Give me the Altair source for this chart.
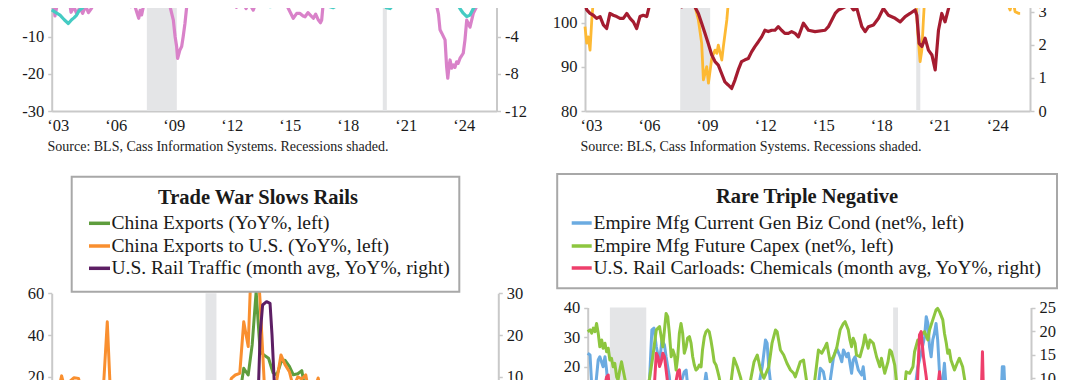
import altair as alt
import pandas as pd

# ---------------- data (decimal years) ----------------
# Top-left panel: pink (left axis) and teal (right axis)
pink_t = [2003.0, 2003.1, 2003.17, 2003.3, 2003.6, 2003.9, 2004.0, 2004.15, 2004.3, 2004.45, 2004.6,
          2004.75, 2004.9, 2005.05, 2005.2, 2005.4, 2005.8, 2006.3, 2006.8, 2007.1, 2007.25, 2007.4,
          2007.5, 2007.57, 2007.65, 2007.8, 2008.2, 2008.6, 2008.9, 2009.03, 2009.12, 2009.29, 2009.38,
          2009.46, 2009.51, 2009.63, 2009.72, 2009.8, 2009.89, 2009.98, 2010.06, 2010.5, 2011.0, 2011.5,
          2012.0, 2012.4, 2012.55, 2012.7, 2012.9, 2013.05, 2013.2, 2013.42, 2013.6, 2014.0, 2014.5,
          2015.0, 2015.23, 2015.49, 2015.67, 2015.84, 2016.0, 2016.1, 2016.25, 2016.36, 2016.53, 2016.65,
          2016.79, 2016.9, 2016.96, 2017.04, 2017.5, 2018.0, 2018.5, 2019.0, 2019.5, 2019.7, 2019.9,
          2020.2, 2020.5, 2021.0, 2021.5, 2022.0, 2022.5, 2022.87, 2023.0, 2023.08, 2023.17, 2023.34,
          2023.42, 2023.48, 2023.55, 2023.6, 2023.68, 2023.77, 2023.85, 2023.94, 2024.02, 2024.11,
          2024.28, 2024.37, 2024.46, 2024.63, 2024.8, 2024.97, 2025.15, 2025.4, 2025.55]
pink_v = [0.5, -1.5, -4.5, -1.0, 1.0, 0.0, -3.5, -2.0, -4.0, -2.2, -3.8,
          -1.8, -3.6, -2.5, -1.0, 1.0, 2.0, 2.5, 1.0, -2.0, -1.0, -3.5,
          -5.1, -3.0, -4.2, -0.5, 1.5, 1.0, -0.5, -1.0, -2.0, -5.6, -10.0,
          -12.7, -15.9, -13.6, -12.7, -10.0, -6.5, -2.0, 0.5, 4.0, 3.0, 2.0,
          1.0, -0.5, -2.2, -0.5, -1.0, -2.5, -1.0, -2.9, -0.5, 1.0, 1.5,
          -0.5, -2.4, -5.1, -3.8, -3.8, -4.5, -4.7, -3.6, -4.2, -5.1, -4.0,
          -5.6, -6.3, -5.6, -1.0, 2.0, 4.0, 3.0, 1.0, -1.5, -0.5, -1.2,
          0.0, 1.0, 4.0, 6.0, 4.0, 1.0, -1.0, -4.0, -8.2, -9.1, -10.9,
          -18.1, -21.2, -17.8, -16.3, -18.5, -17.6, -18.3, -16.8, -17.2, -15.9,
          -14.5, -10.9, -5.6, -7.5, -3.8, -2.0, 0.0, 0.5, 0.0]
teal_t = [2003.0, 2003.2, 2003.43, 2003.65, 2003.86, 2004.03, 2004.15, 2004.29, 2004.42, 2004.55, 2004.7,
          2004.8, 2005.0, 2005.5, 2006.0, 2006.5, 2007.0, 2007.4, 2007.6, 2008.0, 2008.6, 2008.95, 2009.2,
          2009.6, 2010.2, 2010.8, 2011.4, 2012.0, 2012.6, 2013.2, 2013.8, 2014.3, 2014.8, 2015.06, 2015.49,
          2015.9, 2016.3, 2016.8, 2017.2, 2017.56, 2017.9, 2018.4, 2018.9, 2019.4, 2019.8, 2020.1, 2020.3,
          2020.5, 2020.7, 2021.0, 2021.6, 2022.2, 2022.8, 2023.4, 2023.94, 2024.11, 2024.28, 2024.46,
          2024.63, 2024.8, 2024.97, 2025.15, 2025.5]
teal_v = [-1.15, -1.4, -1.7, -2.2, -2.6, -2.2, -2.0, -1.7, -1.2, -1.0, -0.7,
          -0.4, 0.0, 0.5, 0.8, 0.3, -0.3, -0.7, -0.4, 0.0, -0.2, -0.6, -0.3,
          0.5, 0.3, -0.5, 0.0, 0.2, -0.3, 0.0, -0.5, -0.8, -0.6, -0.6, -0.45,
          -0.6, -0.3, -0.6, -0.7, -0.9, -0.5, -0.2, -0.1, -0.3, -0.1, -0.4, -0.9,
          -1.0, -0.5, 0.5, 1.0, 1.2, 0.8, 0.4, -0.4, -1.0, -1.5, -1.87,
          -1.7, -1.0, -0.6, -0.25, -0.1]

# Top-right panel: dark red (left axis) and yellow (right axis)
red_t = [2003.0, 2003.09, 2003.26, 2003.43, 2003.6, 2003.78, 2003.95, 2004.12, 2004.29, 2004.46, 2004.64,
         2004.81, 2004.98, 2005.16, 2005.33, 2005.5, 2005.67, 2005.84, 2006.01, 2006.19, 2006.36, 2006.6,
         2007.0, 2007.3, 2007.48, 2007.65, 2007.82, 2008.0, 2008.17, 2008.34, 2008.51, 2008.68, 2008.86,
         2009.03, 2009.2, 2009.37, 2009.55, 2009.72, 2009.89, 2010.06, 2010.23, 2010.4, 2010.58, 2010.75,
         2010.92, 2011.09, 2011.27, 2011.44, 2011.61, 2011.78, 2011.96, 2012.13, 2012.3, 2012.47, 2012.65,
         2012.82, 2012.99, 2013.16, 2013.33, 2013.51, 2013.68, 2013.86, 2014.03, 2014.29, 2014.55, 2014.89,
         2015.41, 2015.58, 2015.93, 2016.1, 2016.44, 2016.7, 2016.87, 2017.05, 2017.31, 2017.48, 2017.65,
         2017.91, 2018.17, 2018.42, 2018.68, 2019.03, 2019.29, 2019.55, 2019.8, 2020.06, 2020.15, 2020.27,
         2020.41, 2020.58, 2020.75, 2020.93, 2021.1, 2021.27, 2021.44, 2021.61, 2021.79, 2021.87, 2022.2,
         2022.8, 2023.5, 2024.2, 2024.9, 2025.5]
red_v = [104.4, 102.9, 102.1, 101.7, 101.0, 101.4, 99.5, 98.7, 102.1, 101.7, 101.4,
         101.0, 101.0, 102.1, 101.0, 100.2, 98.7, 101.4, 101.7, 101.4, 104.4, 106.0,
         105.5, 104.6, 104.4, 104.0, 104.4, 103.6, 104.4, 104.0, 104.4, 103.6, 102.1,
         99.9, 97.6, 95.3, 92.7, 91.2, 90.4, 88.5, 86.6, 85.9, 85.1, 87.0,
         89.3, 91.2, 91.6, 91.9, 93.4, 94.6, 95.7, 96.8, 98.3, 98.0, 98.3,
         98.3, 99.1, 98.3, 97.6, 97.6, 98.0, 97.6, 96.8, 99.9, 98.3, 98.0,
         98.3, 99.1, 102.1, 102.9, 103.6, 104.0, 102.9, 103.25, 99.1, 98.0, 99.1,
         99.5, 101.0, 103.25, 101.7, 101.0, 100.2, 101.4, 102.1, 102.9, 101.7, 95.3,
         94.6, 96.5, 93.8, 92.7, 89.3, 98.3, 102.1, 100.2, 103.25, 105.0, 108.0,
         110.0, 109.0, 108.0, 107.0, 106.5]
yel_t = [2003.0, 2003.09, 2003.17, 2003.26, 2003.35, 2003.43, 2003.78, 2004.2, 2005.0, 2006.0, 2007.0,
         2008.0, 2008.5, 2008.69, 2008.86, 2009.03, 2009.12, 2009.29, 2009.38, 2009.55, 2009.72, 2009.81,
         2009.89, 2010.07, 2010.15, 2010.33, 2010.41, 2010.58, 2010.75, 2010.93, 2011.2, 2012.0, 2013.0,
         2013.95, 2014.5, 2015.5, 2016.05, 2016.5, 2017.5, 2018.5, 2019.5, 2020.0, 2020.1, 2020.2,
         2020.32, 2020.41, 2020.49, 2020.55, 2021.0, 2022.0, 2023.0, 2024.0, 2024.37, 2024.46, 2024.6,
         2024.8, 2024.97, 2025.08, 2025.15, 2025.23, 2025.4, 2025.49]
yel_v = [2.55, 2.05, 2.24, 1.84, 2.75, 3.35, 3.2, 3.5, 3.6, 3.7, 3.6,
         3.5, 3.3, 3.15, 2.75, 2.05, 0.94, 1.34, 0.84, 1.59, 1.84, 1.74,
         1.99, 1.54, 1.94, 2.75, 3.3, 3.2, 3.35, 3.2, 3.5, 3.6, 3.5,
         3.3, 3.6, 3.5, 3.2, 3.5, 3.7, 3.8, 3.6, 3.4, 3.35, 2.35,
         1.49, 1.84, 2.75, 3.35, 3.8, 4.0, 3.9, 3.6, 3.35, 3.25, 3.4,
         3.3, 3.05, 3.3, 3.25, 3.0, 2.95, 2.95]

# Bottom-left panel "Trade War Slows Rails"
cex_t = [2017.0, 2017.5, 2018.0, 2018.5, 2019.0, 2019.5, 2020.0, 2020.3, 2020.5, 2020.62, 2020.7,
         2020.79, 2020.87, 2020.96, 2021.04, 2021.12, 2021.2, 2021.29, 2021.37, 2021.46, 2021.54, 2021.62,
         2021.7, 2021.79, 2021.87, 2021.96, 2022.04, 2022.12, 2022.2, 2022.3, 2022.5, 2022.6, 2023.0,
         2023.5, 2024.0, 2024.5, 2025.0, 2025.5]
cex_v = [5, 10, 8, 10, -5, 0, -17, 3, 7, 9.5, 9.9,
         11.4, 24.1, 20.9, 35.3, 60.8, 32.1, 30.2, 28.9, 22, 21, 27,
         28, 25, 21, 21.5, 23, 12, 14.7, 4, 17, 16, -10,
         -12, 5, 7, 5, 6]
cus_t = [2017.0, 2017.12, 2017.2, 2017.29, 2017.37, 2017.45, 2017.54, 2017.62, 2017.8, 2018.0, 2018.04,
         2018.12, 2018.2, 2018.4, 2018.7, 2019.0, 2019.5, 2020.0, 2020.2, 2020.4, 2020.54, 2020.62,
         2020.7, 2020.79, 2020.87, 2020.96, 2021.04, 2021.12, 2021.2, 2021.29, 2021.37, 2021.46, 2021.54,
         2021.62, 2021.7, 2021.79, 2021.87, 2021.96, 2022.04, 2022.12, 2022.2, 2022.29, 2022.37, 2022.45,
         2022.6, 2023.0, 2023.5, 2024.0, 2024.5, 2025.0, 2025.3, 2025.6]
cus_v = [8, 12, 20.5, 12, 18, 19.6, 19.3, 12, 10, 12, 14,
         46.4, 3, 10, 8, -5, -10, -15, -20, -5, 10, 19.3,
         20.9, 21.7, 46.4, 34.5, 87, 87, 56, 14, 12, 10, 19,
         30.5, 26, 22.5, 15, 20, 19, 21, 10, 13, 19.5, 10,
         5, -10, -15, -5, 5, 0, -20, -15]
rail_t = [2017.0, 2017.5, 2018.0, 2018.5, 2019.0, 2019.5, 2020.0, 2020.3, 2020.5, 2020.8, 2021.0,
          2021.12, 2021.16, 2021.2, 2021.25, 2021.33, 2021.4, 2021.44, 2021.5, 2021.54, 2021.8, 2022.2,
          2022.7, 2023.2, 2023.7, 2024.2, 2024.7, 2025.2, 2025.6]
rail_v = [5, 4, 3, 4, -3, -5, -8, -25, -15, 2, 4,
          -4, 5, 20, 27.2, 28, 27.6, 20, 5, 4, -2, -3,
          0, -4, -2, 3, 4, 3, 2]

# Bottom-right panel "Rare Triple Negative"
cap_t = [2007.0, 2007.1, 2007.17, 2007.24, 2007.31, 2007.38, 2007.45, 2007.52, 2007.6, 2007.66, 2007.74,
         2007.81, 2007.88, 2007.95, 2008.02, 2008.09, 2008.16, 2008.24, 2008.3, 2008.38, 2008.45, 2008.52,
         2008.59, 2008.7, 2008.85, 2009.0, 2009.2, 2009.4, 2009.55, 2009.65, 2009.79, 2009.94, 2010.08,
         2010.15, 2010.22, 2010.29, 2010.36, 2010.43, 2010.5, 2010.58, 2010.65, 2010.72, 2010.79, 2010.86,
         2010.93, 2011.0, 2011.07, 2011.14, 2011.22, 2011.28, 2011.36, 2011.43, 2011.5, 2011.57, 2011.64,
         2011.72, 2011.78, 2011.86, 2011.92, 2012.0, 2012.07, 2012.14, 2012.21, 2012.28, 2012.35, 2012.42,
         2012.5, 2012.56, 2012.63, 2012.71, 2012.9, 2013.1, 2013.27, 2013.41, 2013.56, 2013.7, 2013.9,
         2014.13, 2014.27, 2014.41, 2014.55, 2014.76, 2014.9, 2015.05, 2015.12, 2015.26, 2015.4, 2015.54,
         2015.69, 2015.83, 2015.9, 2016.11, 2016.25, 2016.4, 2016.55, 2016.68, 2016.89, 2017.03, 2017.18,
         2017.25, 2017.39, 2017.53, 2017.67, 2017.82, 2017.96, 2018.03, 2018.17, 2018.24, 2018.31, 2018.38,
         2018.46, 2018.52, 2018.67, 2018.81, 2018.88, 2019.02, 2019.1, 2019.24, 2019.38, 2019.52, 2019.59,
         2019.73, 2019.87, 2019.95, 2020.02, 2020.16, 2020.3, 2020.35, 2020.45, 2020.55, 2020.65, 2020.8,
         2020.94, 2021.01, 2021.15, 2021.22, 2021.29, 2021.44, 2021.58, 2021.65, 2021.79, 2021.93, 2022.0,
         2022.08, 2022.22, 2022.29, 2022.37, 2022.43, 2022.5, 2022.57, 2022.72, 2022.86, 2022.93, 2023.07,
         2023.21, 2023.5, 2023.8, 2024.1, 2024.4, 2024.7, 2025.0, 2025.3, 2025.5]
cap_v = [31.8, 32.4, 31.3, 33.0, 31.8, 34.6, 31.3, 26.7, 29.0, 26.2, 27.9,
         25.0, 26.2, 22.2, 22.8, 19.9, 21.1, 16.5, 15.4, 19.0, 21.6, 18.8,
         16.0, 12, 5, -2, 0, 8, 12, 16.0, 23.3, 32.4, 33.5,
         30.1, 26.7, 32.4, 38.0, 36.9, 31.3, 23.3, 25.6, 23.9, 18.8, 23.3,
         31.3, 34.6, 31.3, 24.5, 26.7, 29.6, 30.1, 27.9, 23.3, 20.5, 18.8,
         19.4, 20.5, 19.9, 25.6, 30.1, 31.8, 32.4, 31.8, 29.0, 25.6, 21.6,
         20.5, 18.8, 16.5, 13, 8, 12, 22.8, 19.9, 16.0, 10, 12,
         21.6, 23.9, 18.8, 16.0, 19.9, 27.9, 32.4, 31.8, 25.6, 23.9, 21.1,
         18.8, 17.7, 16.5, 21.6, 22.2, 14, 10, 12, 25.6, 24.5, 26.7,
         27.9, 21.6, 23.3, 26.2, 32.4, 34.6, 35.2, 32.4, 29.0, 26.7, 29.6,
         27.9, 23.9, 23.3, 27.3, 30.7, 26.2, 29.0, 27.9, 23.3, 19.9, 22.8,
         17.7, 21.6, 25.6, 25.0, 20.5, 10, -5, 0, 10, 18.2, 17.7,
         19.9, 25.0, 29.0, 27.9, 30.7, 31.8, 29.0, 32.4, 35.8, 39.2, 39.7,
         38.6, 35.8, 31.3, 27.9, 24.5, 25.6, 22.2, 18.8, 21.6, 22.8, 19.9,
         13, 8, 5, 10, 3, 8, 5, -5, 2]
biz_t = [2007.0, 2007.1, 2007.17, 2007.3, 2007.45, 2007.52, 2007.66, 2007.74, 2007.81, 2007.9, 2008.2,
         2008.6, 2008.9, 2009.2, 2009.5, 2009.65, 2009.75, 2009.84, 2009.94, 2010.08, 2010.18, 2010.29,
         2010.36, 2010.5, 2010.6, 2010.9, 2011.14, 2011.22, 2011.35, 2011.6, 2011.9, 2012.07, 2012.2,
         2012.6, 2013.0, 2013.5, 2014.0, 2014.3, 2014.48, 2014.62, 2014.69, 2014.76, 2014.9, 2015.3,
         2015.8, 2016.3, 2016.8, 2016.97, 2017.1, 2017.3, 2017.53, 2017.67, 2017.82, 2017.89, 2017.96,
         2018.1, 2018.17, 2018.31, 2018.38, 2018.46, 2018.6, 2018.74, 2018.81, 2018.95, 2019.3, 2019.7,
         2020.0, 2020.3, 2020.5, 2020.7, 2020.9, 2021.15, 2021.29, 2021.44, 2021.51, 2021.58, 2021.65,
         2021.72, 2021.79, 2021.86, 2021.93, 2022.0, 2022.08, 2022.18, 2022.29, 2022.37, 2022.6, 2022.9,
         2023.2, 2023.6, 2024.0, 2024.5, 2024.7, 2024.77, 2024.84, 2024.92, 2025.2, 2025.5]
biz_v = [24.5, 23.9, 14, 10, 22.2, 23.3, 19.9, 23.3, 18.8, 10, 5,
         0, -20, -30, 0, 15.4, 32.4, 33.0, 26.7, 21.1, 29.0, 27.3,
         23.3, 16.5, 8, 12, 18.2, 18.8, 8, 0, 8, 17.7, 10,
         0, 5, 3, 8, 12, 19.9, 29.0, 27.9, 19.9, 10, 0,
         -5, 0, 8, 19.4, 18.2, 10, 22.8, 26.2, 23.3, 21.6, 25.6,
         23.3, 24.5, 17.7, 22.2, 23.3, 18.8, 17.1, 19.9, 10, 8, 3,
         5, -50, 0, 10, 5, 19.9, 24.5, 30.1, 36.9, 34.6, 26.7,
         23.3, 29.0, 31.3, 34.6, 29.0, 17.7, 12, 21.1, 12, 5, -5,
         -15, 0, -10, -5, 5, 19.9, 19.9, 5, -5, -10]
chem_t = [2007.0, 2007.6, 2007.81, 2007.88, 2007.95, 2008.3, 2008.8, 2009.2, 2009.6, 2009.87, 2009.94,
          2010.01, 2010.08, 2010.15, 2010.22, 2010.29, 2010.36, 2010.45, 2010.7, 2010.86, 2010.93, 2011.0,
          2011.5, 2012.0, 2013.0, 2014.0, 2015.0, 2016.0, 2017.0, 2018.0, 2019.0, 2020.0, 2020.4,
          2020.8, 2021.1, 2021.22, 2021.29, 2021.39, 2021.51, 2021.6, 2021.9, 2022.0, 2022.08, 2022.15,
          2022.6, 2023.2, 2023.85, 2023.92, 2023.98, 2024.5, 2025.0, 2025.5]
chem_v = [3, 5, 10.3, 10.7, 6, 3, -5, -15, 0, 9.5, 15.3,
          14.6, 12.5, 13.5, 15.3, 14.6, 11.8, 8, 7, 11.4, 11.8, 8,
          5, 3, 2, 5, 0, -2, 3, 4, 0, -3, -15,
          -2, 5, 19.2, 19.9, 14.6, 10.3, 6, 3, 8, 11.4, 6,
          2, 0, 3, 15.6, 3, 2, 4, 2]

# recessions
rec_top_s = [2007.92, 2020.12]
rec_top_e = [2009.47, 2020.33]
rec_bl_s = [2020.10]
rec_bl_e = [2020.32]
rec_br_s = [2007.95, 2020.09]
rec_br_e = [2009.51, 2020.30]

# tick values
year_ticks = [2003, 2006, 2009, 2012, 2015, 2018, 2021, 2024]

# ---------------- styling / layout ----------------
W, H = 1064, 372
FONT = "Liberation Serif"
AX = "#c9c9c9"
REC = "#e4e5e7"
TXT = "#1a1a1a"


def sc(domain, rng):
    return alt.Scale(domain=domain, range=rng, nice=False, zero=False)


def yaxis(orient, offset, values):
    return alt.Axis(orient=orient, offset=offset, values=values, grid=False, title=None,
                    domainColor=AX, domainWidth=2, tickColor=AX, tickWidth=1.5, tickSize=4,
                    labelFont=FONT, labelFontSize=16.5, labelColor=TXT, labelPadding=4,
                    labelFlush=False, labelOverlap=False, labelBound=False,
                    labelExpr="'' + datum.value")


def xaxis(offset):
    return alt.Axis(orient="bottom", offset=offset, values=year_ticks, grid=False, title=None,
                    domainColor=AX, domainWidth=2, ticks=False,
                    labelFont=FONT, labelFontSize=16.5, labelColor=TXT, labelPadding=6,
                    labelOffset=6, labelFlush=False, labelOverlap=False, labelBound=False,
                    labelExpr="'\u2018' + substring('' + datum.value, 2, 4)")


def line(t, v, color, xs, ys, width=3.0, xax=None, yax=None):
    df = pd.DataFrame({"t": t, "v": v})
    return alt.Chart(df).mark_line(color=color, strokeWidth=width, strokeJoin="round").encode(
        x=alt.X("t:Q", scale=xs, axis=xax),
        y=alt.Y("v:Q", scale=ys, axis=yax),
    )


def rec(s, e, xs, y0, y1):
    df = pd.DataFrame({"s": s, "e": e})
    return alt.Chart(df).mark_rect(color=REC).encode(
        x=alt.X("s:Q", scale=xs, axis=None), x2="e:Q",
        y=alt.value(y0), y2=alt.value(y1))


one = pd.DataFrame({"a": [0]})


def txt(s, x, y, size=16, bold=False, align="left", color=TXT):
    return alt.Chart(one).mark_text(text=s, font=FONT, fontSize=size, fontWeight="bold" if bold else "normal",
                                    align=align, baseline="middle", color=color).encode(
        x=alt.value(x), y=alt.value(y))


def box(x0, x1, y0, y1):
    return alt.Chart(one).mark_rect(fill="white", stroke="#a8a8a8", strokeWidth=2).encode(
        x=alt.value(x0), x2=alt.value(x1), y=alt.value(y0), y2=alt.value(y1))


def swatch(x0, x1, y, color):
    return alt.Chart(one).mark_rule(color=color, strokeWidth=3.5).encode(
        x=alt.value(x0), x2=alt.value(x1), y=alt.value(y))


# panel geometry (in chart pixels)
TL_X = sc([2003, 2026], [43.7, 488.5])
TL_YL = sc([-30, 30], [103, -120.5])
TL_YR = sc([-12, 12], [103, -120.5])
TR_X = sc([2003, 2026], [577, 1022])
TR_YL = sc([80, 110], [103, -29.4])
TR_YR = sc([0, 4], [103, -29.4])
BL_X = sc([2017, 2026], [43.7, 490.3])
BL_YL = sc([-40, 60], [494.3, 285.3])
BL_YR = sc([-20, 30], [494.3, 285.3])
BR_X = sc([2007, 2026], [579.7, 1023])
BR_YL = sc([-40, 40], [535.5, 299.5])
BR_YR = sc([-25, 25], [535.5, 299.5])

LEG = 19.5
TIT = 20.5

layers = [
    rec(rec_top_s, rec_top_e, TL_X, 0, 103),
    rec(rec_top_s, rec_top_e, TR_X, 0, 103),
    rec(rec_bl_s, rec_bl_e, BL_X, 285.3, 372),
    rec(rec_br_s, rec_br_e, BR_X, 299.5, 372),
    # top-left
    line(pink_t, pink_v, "#d982c9", TL_X, TL_YL, 3.2, xax=xaxis(103 - H), yax=yaxis("left", -43.7, [-30, -20, -10])),
    line(teal_t, teal_v, "#45cbc3", TL_X, TL_YR, 3.2, yax=yaxis("right", 488.5 - W, [-12, -8, -4])),
    # top-right
    line(yel_t, yel_v, "#fdb934", TR_X, TR_YR, 2.8, xax=xaxis(103 - H), yax=yaxis("right", 1022 - W, [0, 1, 2, 3])),
    line(red_t, red_v, "#a51c30", TR_X, TR_YL, 3.2, yax=yaxis("left", -577, [80, 90, 100])),
    # bottom-left
    line(cex_t, cex_v, "#5e9d3d", BL_X, BL_YL, 3.0, yax=yaxis("left", -43.7, [20, 40, 60])),
    line(cus_t, cus_v, "#f98f2f", BL_X, BL_YL, 3.0),
    line(rail_t, rail_v, "#5d1f64", BL_X, BL_YR, 3.0, yax=yaxis("right", 490.3 - W, [10, 20, 30])),
    # bottom-right
    line(biz_t, biz_v, "#6babe1", BR_X, BR_YL, 3.0, yax=yaxis("left", -579.7, [20, 30, 40])),
    line(cap_t, cap_v, "#8dc63f", BR_X, BR_YL, 3.0),
    line(chem_t, chem_v, "#ee3f6b", BR_X, BR_YR, 3.0, yax=yaxis("right", 1023 - W, [10, 15, 20, 25])),
    # sources
    txt("Source: BLS, Cass Information Systems. Recessions shaded.", 39.5, 139, size=14, color="#222"),
    txt("Source: BLS, Cass Information Systems. Recessions shaded.", 572.5, 139, size=14, color="#222"),
    # legend boxes
    box(63.7, 451.3, 168.7, 283.7),
    txt("Trade War Slows Rails", 250, 190, size=TIT, bold=True, align="center"),
    swatch(81, 102, 215.3, "#5e9d3d"),
    swatch(81, 102, 238, "#f98f2f"),
    swatch(81, 102, 260.3, "#5d1f64"),
    txt("China Exports (YoY%, left)", 103.5, 215.3, size=LEG),
    txt("China Exports to U.S. (YoY%, left)", 103.5, 238, size=LEG),
    txt("U.S. Rail Traffic (month avg, YoY%, right)", 103.5, 260.3, size=LEG),
    box(549.2, 1049, 166, 280.3),
    txt("Rare Triple Negative", 799, 188.7, size=TIT, bold=True, align="center"),
    swatch(563.7, 583.7, 215, "#6babe1"),
    swatch(563.7, 583.7, 238, "#8dc63f"),
    swatch(563.7, 583.7, 260, "#ee3f6b"),
    txt("Empire Mfg Current Gen Biz Cond (net%, left)", 585.5, 215, size=LEG),
    txt("Empire Mfg Future Capex (net%, left)", 585.5, 238, size=LEG),
    txt("U.S. Rail Carloads: Chemicals (month avg, YoY%, right)", 585.5, 260, size=LEG),
]

chart = alt.layer(*layers).resolve_scale(x="independent", y="independent").resolve_axis(
    x="independent", y="independent").properties(
    width=W, height=H, autosize=alt.AutoSizeParams(type="none"), padding=0,
    background="white").configure_view(stroke=None)

chart.save("out.html", embed_options={"renderer": "svg", "actions": False})
